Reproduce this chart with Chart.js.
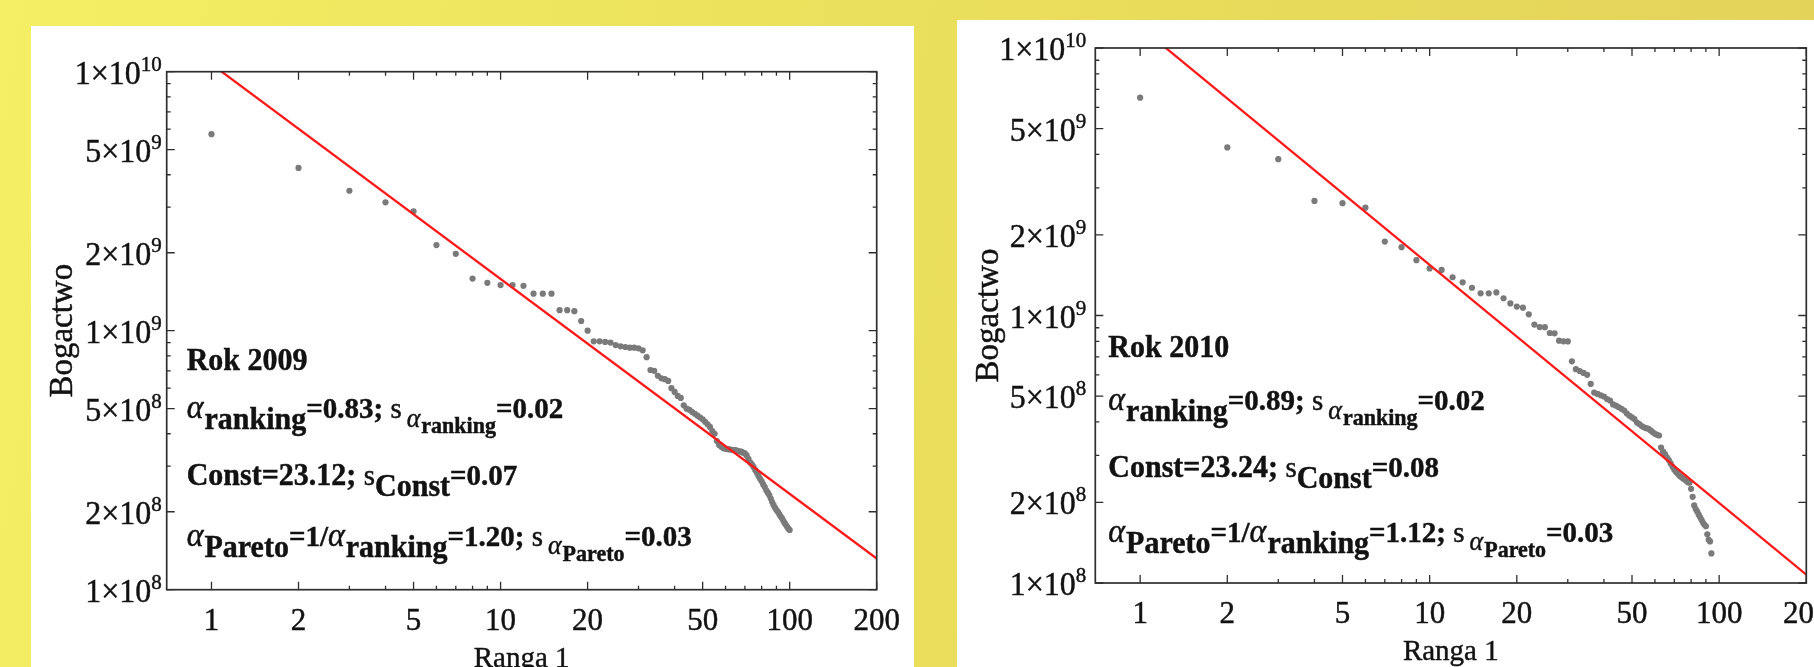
<!DOCTYPE html>
<html><head><meta charset="utf-8">
<script src="https://cdn.jsdelivr.net/npm/chart.js@4.4.1/dist/chart.umd.min.js"></script>
<style>
html,body{margin:0;padding:0;width:1814px;height:667px;overflow:hidden;}
body{background:linear-gradient(100deg,#f4ef64 0%,#ebe05b 45%,#e2d25a 100%);position:relative;}
.panel{position:absolute;background:#fff;overflow:hidden;}
#p1{left:31px;top:26px;width:883px;height:641px;}
#p2{left:957px;top:20px;width:857px;height:647px;}
canvas{display:block;filter:blur(0.4px);}
</style></head>
<body>
<div class="panel" id="p1"><canvas id="c1" width="883" height="641"></canvas></div>
<div class="panel" id="p2"><canvas id="c2" width="857" height="647"></canvas></div>
<script>
// ---------- data ----------
const ranks2009 = [1,2,3,4,5,6,7,8,9,10,11,12,13,14,15,16,17,18,19,20,21,22,23,24,25,26,27,28,29,30,31,32,33,34,35,36,37,38,39,40,41,42,43,44,45,46,47,48,49,50,51,52,53,54,55,56,57,58,59,60,61,62,63,64,65,66,67,68,69,70,71,72,73,74,75,76,77,78,79,80,81,82,83,84,85,86,87,88,89,90,91,92,93,94,95,96,97,98,99,100];
const wealth2009 = [5.74e9,4.25e9,3.47e9,3.13e9,2.89e9,2.14e9,1.98e9,1.59e9,1.53e9,1.50e9,
  1.50e9,1.49e9,1.39e9,1.39e9,1.39e9,1.20e9,1.20e9,1.19e9,1.09e9,1.00e9,
  9.1e8,9.1e8,9.05e8,9.0e8,8.8e8,8.7e8,8.65e8,8.6e8,8.6e8,8.55e8,
  8.4e8,7.9e8,7.05e8,7.0e8,6.7e8,6.55e8,6.5e8,6.4e8,6.0e8,5.8e8,
  5.6e8,5.5e8,5.15e8,5.0e8,4.95e8,4.85e8,4.78e8,4.7e8,4.62e8,4.55e8,
  4.45e8,4.35e8,4.25e8,4.1e8,4.0e8,3.75e8,3.62e8,3.56e8,3.52e8,3.5e8,
  3.49e8,3.48e8,3.47e8,3.46e8,3.46e8,3.44e8,3.42e8,3.41e8,3.38e8,3.36e8,
  3.3e8,3.2e8,3.1e8,3.05e8,2.98e8,2.9e8,2.83e8,2.75e8,2.68e8,2.62e8,
  2.55e8,2.49e8,2.42e8,2.37e8,2.32e8,2.25e8,2.18e8,2.12e8,2.07e8,2.03e8,
  2.0e8,1.96e8,1.92e8,1.89e8,1.85e8,1.81e8,1.78e8,1.75e8,1.72e8,1.70e8];
const ranks2010 = [1,2,3,4,5,6,7,8,9,10,11,12,13,14,15,16,17,18,19,20,21,22,23,24,25,26,27,28,29,30,31,32,33,34,35,36,37,38,39,40,41,42,43,44,45,46,47,48,49,50,51,52,53,54,55,56,57,58,59,60,61,62,63,64,65,66,67,68,69,70,71,72,73,74,75,76,77,78,79,80,81,82,83,84,85,86,87,88,89,90,91,92,93,94];
const wealth2010 = [6.52e9,4.25e9,3.84e9,2.68e9,2.63e9,2.53e9,1.89e9,1.80e9,1.61e9,1.50e9,
  1.48e9,1.39e9,1.33e9,1.27e9,1.21e9,1.21e9,1.22e9,1.16e9,1.11e9,1.08e9,
  1.07e9,1.01e9,9.25e8,9.05e8,9.04e8,8.6e8,8.58e8,8.05e8,8.01e8,8.0e8,
  6.74e8,6.3e8,6.2e8,6.1e8,6.0e8,5.55e8,5.15e8,5.09e8,5.03e8,4.98e8,
  4.87e8,4.81e8,4.65e8,4.6e8,4.54e8,4.48e8,4.41e8,4.3e8,4.22e8,4.16e8,
  4.1e8,3.98e8,3.93e8,3.86e8,3.82e8,3.79e8,3.77e8,3.72e8,3.66e8,3.61e8,
  3.58e8,3.56e8,3.21e8,3.1e8,3.03e8,2.95e8,2.88e8,2.8e8,2.72e8,2.65e8,
  2.6e8,2.56e8,2.52e8,2.49e8,2.46e8,2.44e8,2.41e8,2.38e8,2.37e8,2.25e8,
  2.1e8,1.95e8,1.89e8,1.85e8,1.80e8,1.76e8,1.72e8,1.68e8,1.65e8,1.63e8,
  1.52e8,1.45e8,1.43e8,1.29e8];
const fitRanks = [1, 200];
const fit2009 = [1.07e10, 1.32e8];
const fit2010 = [1.20e10, 1.074e8];

const xTicksMajor = [1,2,5,10,20,50,100,200];
const xTickLabels = ['1','2','5','10','20','50','100','200'];
const xTicksMinor = [3,4,6,7,8,9,30,40,60,70,80,90];
const yTicksMajor = [1e8,2e8,5e8,1e9,2e9,5e9,1e10];
const yTickMantissa = ['1','2','5','1','2','5','1'];
const yTickExponent = ['8','8','8','9','9','9','10'];
const yTicksMinor = [3e8,4e8,6e8,7e8,8e8,9e8,3e9,4e9,6e9,7e9,8e9,9e9];

const xTitle = 'Ranga 1';
const yTitle = 'Bogactwo';
const year2009 = ['Rok 2009'], stats2009 = ['0.83','0.02','23.12','0.07','1.20','0.03'];
const year2010 = ['Rok 2010'], stats2010 = ['0.89','0.02','23.24','0.08','1.12','0.03'];

// ---------- drawing helpers ----------
const FF = '"Liberation Serif","Times New Roman",serif';
const STRETCH = 1.04;
const TXT = '#121212';
const f = (s) => s + 'px ' + FF;

function segWidth(ctx, segs){
  let w = 0;
  for (const s of segs){ ctx.font = s.f; w += (s.gap||0) + ctx.measureText(s.t).width; }
  return w;
}
function drawRich(ctx, segs, x, y, align){
  ctx.save();
  ctx.fillStyle = TXT;
  ctx.strokeStyle = TXT;
  ctx.lineWidth = 0.45;
  ctx.textBaseline = 'alphabetic';
  ctx.textAlign = 'left';
  let w = segWidth(ctx, segs);
  let sx = x;
  if (align === 'right') sx = x - w;
  else if (align === 'center') sx = x - w/2;
  ctx.translate(sx, y);
  ctx.scale(1, STRETCH);
  let cx = 0;
  for (const s of segs){
    ctx.font = s.f;
    cx += (s.gap||0);
    const yy = (s.dy||0)/STRETCH;
    ctx.fillText(s.t, cx, yy);
    ctx.strokeText(s.t, cx, yy);
    cx += ctx.measureText(s.t).width;
  }
  ctx.restore();
}

function statLines(year, st){
  const B = f('bold 30'), V = f('bold 29'), IA = f('italic 32'), R = f('29'), IS = f('italic 26'), BS = f('bold 22');
  return [
    [{t:year[0], f:B}],
    [{t:'α', f:IA}, {t:'ranking', f:B, dy:11, gap:1}, {t:'='+st[0]+'; ', f:V}, {t:'s', f:R},
     {t:'α', f:IS, dy:9, gap:5}, {t:'ranking', f:BS, dy:15, gap:1}, {t:'='+st[1], f:V}],
    [{t:'Const='+st[2]+'; ', f:B}, {t:'s', f:R}, {t:'Const', f:B, dy:11}, {t:'='+st[3], f:V}],
    [{t:'α', f:IA}, {t:'Pareto', f:B, dy:11, gap:1}, {t:'=1/', f:V}, {t:'α', f:IA}, {t:'ranking', f:B, dy:11, gap:1},
     {t:'='+st[4]+'; ', f:V}, {t:'s', f:R}, {t:'α', f:IS, dy:8, gap:5}, {t:'Pareto', f:BS, dy:15, gap:1}, {t:'='+st[5], f:V}]
  ];
}

function framePlugin(cfg){
  return {
    id: 'frame',
    afterDatasetsDraw(chart){
      const ctx = chart.ctx, a = chart.chartArea, xs = chart.scales.x, ys = chart.scales.y;
      ctx.save();
      ctx.strokeStyle = '#2e2e2e';
      ctx.lineWidth = 1.7;
      ctx.strokeRect(a.left, a.top, a.right - a.left, a.bottom - a.top);
      ctx.lineWidth = 1.3;
      ctx.beginPath();
      const xt = (v, L) => { const p = xs.getPixelForValue(v);
        ctx.moveTo(p, a.bottom); ctx.lineTo(p, a.bottom - L);
        ctx.moveTo(p, a.top); ctx.lineTo(p, a.top + L); };
      const yt = (v, L) => { const p = ys.getPixelForValue(v);
        ctx.moveTo(a.left, p); ctx.lineTo(a.left + L, p);
        ctx.moveTo(a.right, p); ctx.lineTo(a.right - L, p); };
      xTicksMajor.forEach(v => xt(v, 8));
      xTicksMinor.forEach(v => xt(v, 4));
      yTicksMajor.forEach(v => yt(v, 8));
      yTicksMinor.forEach(v => yt(v, 4));
      ctx.stroke();
      ctx.restore();

      // x tick labels
      xTicksMajor.forEach((v, i) => {
        drawRich(ctx, [{t:xTickLabels[i], f:f('31')}], xs.getPixelForValue(v), a.bottom + 40, 'center');
      });
      // y tick labels
      yTicksMajor.forEach((v, i) => {
        const segs = [{t:yTickMantissa[i], f:f('32')}, {t:'×', f:f('32')}, {t:'10', f:f('32')},
                      {t:yTickExponent[i], f:f('21'), dy:-13}];
        drawRich(ctx, segs, a.left - cfg.labelGap, ys.getPixelForValue(v) + 12, 'right');
      });
      // axis titles
      drawRich(ctx, [{t:xTitle, f:f('29')}], (a.left + a.right)/2, a.bottom + 77, 'center');
      ctx.save();
      ctx.translate(a.left - cfg.titleGap, (a.top + a.bottom)/2);
      ctx.rotate(-Math.PI/2);
      drawRich(ctx, [{t:yTitle, f:f('33')}], 0, 0, 'center');
      ctx.restore();
      // stats text
      cfg.lines.forEach((segs, i) => drawRich(ctx, segs, cfg.textX, cfg.textY[i], 'left'));
    }
  };
}

function makeChart(id, ranks, wealth, fit, pad, cfg){
  const pts = ranks.map((r, i) => ({x: r, y: wealth[i]}));
  const line = fitRanks.map((r, i) => ({x: r, y: fit[i]}));
  return new Chart(document.getElementById(id), {
    type: 'scatter',
    data: { datasets: [
      { type:'line', data: line, borderColor:'#ff1a1a', borderWidth:2.3, pointRadius:0, fill:false, order:0 },
      { data: pts, backgroundColor:'#7a7a7a', borderWidth:0, pointRadius:3.1, order:1 }
    ]},
    options: {
      responsive:false, animation:false, devicePixelRatio:1,
      layout: { padding: pad },
      plugins: { legend:{display:false}, tooltip:{enabled:false} },
      events: [],
      scales: {
        x: { type:'logarithmic', min:0.7, max:200, display:false },
        y: { type:'logarithmic', min:1e8, max:1e10, display:false }
      }
    },
    plugins: [framePlugin(cfg)]
  });
}

makeChart('c1', ranks2009, wealth2009, fit2009,
  {left:135.7, top:45.7, right:37.3, bottom:77.3},
  {lines: statLines(year2009, stats2009), textX:155.7, textY:[344, 392.3, 459, 520], labelGap:5, titleGap:95});
makeChart('c2', ranks2010, wealth2010, fit2010,
  {left:138.3, top:28, right:7.7, bottom:84},
  {lines: statLines(year2010, stats2010), textX:151.3, textY:[337, 390, 456.5, 521.5], labelGap:9, titleGap:97});
</script>
</body></html>
